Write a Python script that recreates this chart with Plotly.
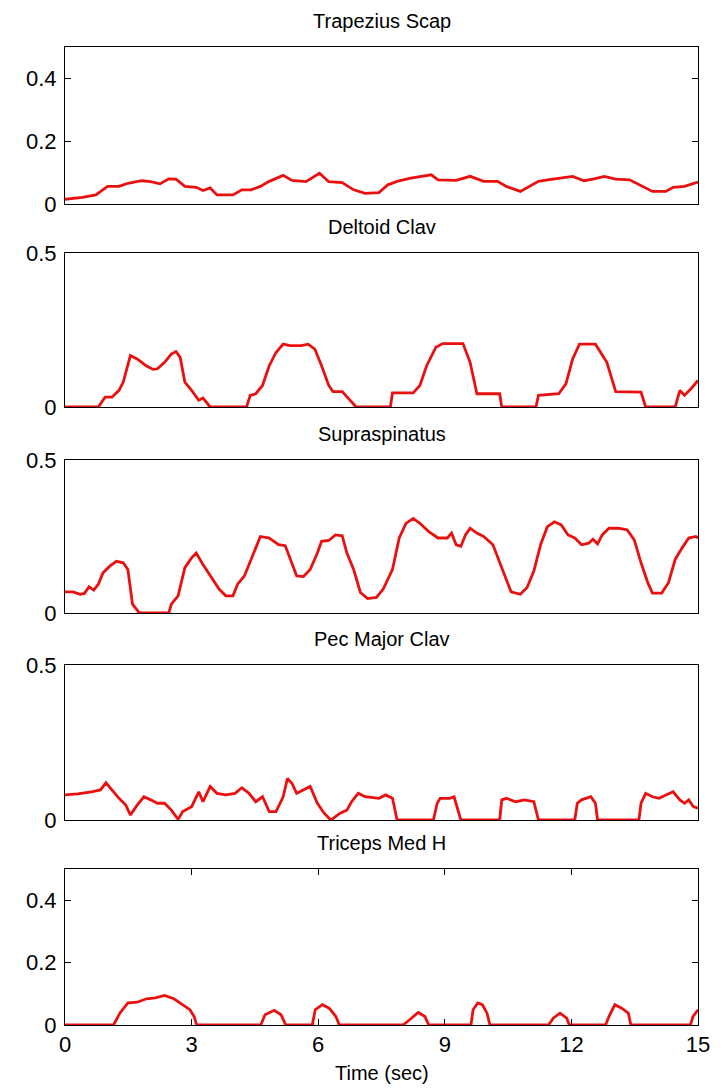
import plotly.graph_objects as go

# ---- EMG envelopes (normalised activation) against time in seconds ----
trap_t = [0, 0.41, 0.73, 1.01, 1.28, 1.49, 1.82, 2.03, 2.25, 2.46, 2.63, 2.84, 3.11, 3.27,
          3.44, 3.60, 3.98, 4.19, 4.41, 4.63, 4.84, 5.17, 5.38, 5.71, 6.03, 6.25, 6.57,
          6.84, 7.11, 7.44, 7.65, 7.87, 8.19, 8.46, 8.68, 8.84, 9.27, 9.60, 9.92, 10.25,
          10.46, 10.79, 11.00, 11.22, 11.43, 11.76, 12.03, 12.30, 12.51, 12.78, 13.05,
          13.38, 13.60, 13.92, 14.24, 14.41, 14.68, 14.95, 15.0]
trap_v = [0.015, 0.021, 0.029, 0.056, 0.056, 0.066, 0.074, 0.071, 0.064, 0.080, 0.079,
          0.056, 0.053, 0.043, 0.051, 0.029, 0.029, 0.045, 0.045, 0.056, 0.072, 0.091,
          0.075, 0.071, 0.098, 0.071, 0.068, 0.045, 0.034, 0.036, 0.061, 0.072, 0.082,
          0.088, 0.093, 0.077, 0.075, 0.088, 0.072, 0.072, 0.056, 0.040, 0.056, 0.072,
          0.077, 0.082, 0.088, 0.074, 0.079, 0.088, 0.079, 0.077, 0.061, 0.040, 0.040,
          0.053, 0.056, 0.069, 0.070]

delt_t = [0, 0.79, 0.95, 1.11, 1.28, 1.38, 1.55, 1.71, 1.92, 2.09, 2.19, 2.36, 2.52, 2.63,
          2.73, 2.84, 3.00, 3.17, 3.27, 3.44, 4.30, 4.39, 4.52, 4.68, 4.84, 5.00, 5.17,
          5.33, 5.60, 5.76, 5.92, 6.08, 6.25, 6.35, 6.57, 6.73, 6.90, 7.71, 7.76, 8.25,
          8.41, 8.57, 8.79, 8.95, 9.43, 9.60, 9.76, 10.30, 10.35, 11.16, 11.22, 11.70,
          11.87, 12.03, 12.19, 12.57, 12.84, 13.05, 13.65, 13.76, 14.46, 14.57, 14.68,
          14.84, 15.0]
delt_v = [0, 0, 0.032, 0.032, 0.054, 0.081, 0.167, 0.156, 0.134, 0.122, 0.124, 0.145,
          0.172, 0.180, 0.161, 0.081, 0.054, 0.022, 0.029, 0, 0, 0.038, 0.043, 0.070,
          0.134, 0.177, 0.204, 0.199, 0.199, 0.204, 0.188, 0.134, 0.070, 0.050, 0.050,
          0.027, 0, 0, 0.046, 0.046, 0.070, 0.134, 0.194, 0.206, 0.206, 0.145, 0.043,
          0.043, 0, 0, 0.038, 0.043, 0.075, 0.156, 0.204, 0.204, 0.145, 0.050, 0.048,
          0, 0, 0.054, 0.038, 0.060, 0.086]

supra_t = [0, 0.19, 0.36, 0.46, 0.57, 0.68, 0.79, 0.90, 1.06, 1.22, 1.38, 1.49, 1.60,
           1.76, 2.46, 2.52, 2.68, 2.84, 3.00, 3.11, 3.27, 3.44, 3.65, 3.81, 3.98, 4.09,
           4.25, 4.41, 4.63, 4.84, 5.06, 5.22, 5.38, 5.49, 5.65, 5.81, 5.98, 6.08, 6.25,
           6.41, 6.57, 6.68, 6.84, 7.00, 7.17, 7.38, 7.54, 7.76, 7.92, 8.08, 8.25, 8.41,
           8.62, 8.84, 9.06, 9.16, 9.27, 9.38, 9.49, 9.60, 9.76, 9.92, 10.14, 10.30,
           10.46, 10.57, 10.79, 10.95, 11.11, 11.27, 11.43, 11.60, 11.76, 11.92, 12.08,
           12.24, 12.41, 12.51, 12.62, 12.73, 12.89, 13.11, 13.32, 13.49, 13.65, 13.81,
           13.92, 14.14, 14.30, 14.46, 14.62, 14.78, 14.95, 15.0]
supra_v = [0.069, 0.069, 0.061, 0.064, 0.086, 0.075, 0.094, 0.131, 0.153, 0.169, 0.164,
           0.142, 0.029, 0, 0, 0.029, 0.056, 0.148, 0.180, 0.196, 0.158, 0.121, 0.078,
           0.056, 0.056, 0.094, 0.121, 0.175, 0.250, 0.245, 0.223, 0.220, 0.164, 0.121,
           0.119, 0.142, 0.196, 0.234, 0.237, 0.255, 0.252, 0.196, 0.142, 0.067, 0.047,
           0.051, 0.078, 0.142, 0.245, 0.293, 0.309, 0.293, 0.266, 0.245, 0.245, 0.261,
           0.223, 0.218, 0.255, 0.277, 0.261, 0.250, 0.223, 0.164, 0.110, 0.069, 0.061,
           0.083, 0.137, 0.223, 0.282, 0.298, 0.288, 0.255, 0.245, 0.223, 0.228, 0.241,
           0.226, 0.255, 0.277, 0.277, 0.272, 0.239, 0.164, 0.099, 0.065, 0.065, 0.099,
           0.175, 0.212, 0.245, 0.250, 0.245]

pec_t = [0, 0.30, 0.63, 0.84, 0.97, 1.11, 1.28, 1.44, 1.55, 1.71, 1.87, 2.03, 2.19, 2.36,
         2.52, 2.68, 2.79, 3.00, 3.17, 3.27, 3.44, 3.60, 3.81, 4.03, 4.19, 4.36, 4.52,
         4.68, 4.84, 5.00, 5.17, 5.27, 5.38, 5.49, 5.65, 5.81, 5.98, 6.14, 6.30, 6.52,
         6.68, 6.79, 6.95, 7.11, 7.44, 7.60, 7.76, 7.87, 8.73, 8.82, 8.89, 9.11, 9.22,
         9.38, 10.30, 10.35, 10.46, 10.68, 10.89, 11.11, 11.22, 12.08, 12.14, 12.24,
         12.46, 12.57, 12.62, 13.60, 13.65, 13.76, 13.92, 14.08, 14.24, 14.41, 14.57,
         14.68, 14.78, 14.89, 15.0]
pec_v = [0.081, 0.084, 0.091, 0.097, 0.120, 0.097, 0.070, 0.048, 0.016, 0.048, 0.075,
         0.065, 0.054, 0.054, 0.032, 0.002, 0.027, 0.043, 0.091, 0.059, 0.108, 0.086,
         0.081, 0.086, 0.104, 0.086, 0.059, 0.075, 0.027, 0.027, 0.075, 0.134, 0.118,
         0.086, 0.097, 0.108, 0.054, 0.022, 0, 0.022, 0.032, 0.059, 0.086, 0.075, 0.070,
         0.081, 0.070, 0, 0, 0.054, 0.070, 0.070, 0.075, 0, 0, 0.065, 0.070, 0.059,
         0.065, 0.059, 0, 0, 0.054, 0.065, 0.075, 0.054, 0, 0, 0.054, 0.086, 0.075,
         0.070, 0.081, 0.091, 0.065, 0.054, 0.065, 0.043, 0.038]

tri_t = [0, 1.15, 1.30, 1.49, 1.71, 1.93, 2.14, 2.36, 2.58, 2.79, 2.96, 3.06, 3.12, 4.64,
         4.74, 4.96, 5.12, 5.23, 5.86, 5.93, 6.10, 6.26, 6.42, 6.50, 8.01, 8.16, 8.37,
         8.53, 8.62, 9.62, 9.67, 9.78, 9.89, 10.00, 10.07, 11.46, 11.57, 11.73, 11.89,
         11.95, 12.81, 12.89, 13.03, 13.19, 13.35, 13.41, 14.82, 14.88, 15.0]
tri_v = [0, 0, 0.038, 0.071, 0.073, 0.084, 0.087, 0.095, 0.084, 0.065, 0.049, 0.027, 0,
         0, 0.033, 0.047, 0.033, 0, 0, 0.049, 0.065, 0.054, 0.027, 0, 0, 0.016, 0.040,
         0.027, 0, 0, 0.049, 0.071, 0.065, 0.038, 0, 0, 0.022, 0.038, 0.022, 0, 0,
         0.027, 0.065, 0.054, 0.038, 0, 0, 0.027, 0.049]

muscles = ["Trapezius Scap", "Deltoid Clav", "Supraspinatus", "Pec Major Clav", "Triceps Med H"]
series_t = [trap_t, delt_t, supra_t, pec_t, tri_t]
series_v = [trap_v, delt_v, supra_v, pec_v, tri_v]

y_tickvals = [[0, 0.2, 0.4], [0, 0.5], [0, 0.5], [0, 0.5], [0, 0.2, 0.4]]
y_ticktext = [["0", "0.2", "0.4"], ["0", "0.5"], ["0", "0.5"], ["0", "0.5"], ["0", "0.2", "0.4"]]
x_tickvals = [0, 3, 6, 9, 12, 15]
x_ticktext = ["0", "3", "6", "9", "12", "15"]

# ---- layout geometry ----
W, H = 722, 1092
domains = [(0.8395, 1.0), (0.6319, 0.7894), (0.4213, 0.5777), (0.2096, 0.3681), (0.0, 0.1595)]
FONT = "Liberation Sans Narrow, Arial Narrow, Liberation Sans, sans-serif"
LINE_RED = "rgb(235,16,16)"

fig = go.Figure()
layout = dict(
    width=W, height=H,
    margin=dict(l=65, r=18, t=47, b=67),
    paper_bgcolor="white", plot_bgcolor="white",
    showlegend=False,
    font=dict(family=FONT, size=20, color="black"),
)

annotations = []
for i, (name, tt, vv) in enumerate(zip(muscles, series_t, series_v)):
    n = i + 1
    xa = "x" if n == 1 else f"x{n}"
    ya = "y" if n == 1 else f"y{n}"
    fig.add_trace(go.Scatter(x=tt, y=vv, mode="lines", xaxis=xa, yaxis=ya,
                             line=dict(color=LINE_RED, width=2.8), hoverinfo="skip"))
    last = (n == 5)
    xkey = "xaxis" if n == 1 else f"xaxis{n}"
    ykey = "yaxis" if n == 1 else f"yaxis{n}"
    layout[xkey] = dict(
        domain=[0, 1], range=[0, 15], anchor=ya,
        showline=True, linecolor="black", linewidth=1, mirror="ticks" if last else True,
        showgrid=False, zeroline=False,
        ticks="inside" if last else "", ticklen=6, tickcolor="black",
        tickvals=x_tickvals if last else [], ticktext=x_ticktext if last else [],
        showticklabels=last, tickfont=dict(family=FONT, size=22),
    )
    layout[ykey] = dict(
        domain=list(domains[i]),
        range=[0, 0.5], anchor=xa,
        showline=True, linecolor="black", linewidth=1, mirror="ticks",
        showgrid=False, zeroline=False,
        ticks="inside", ticklen=6, tickcolor="black",
        tickvals=y_tickvals[i], ticktext=y_ticktext[i],
        tickfont=dict(family=FONT, size=22), ticklabelstandoff=3,
    )
    annotations.append(dict(
        text=name, xref="paper", yref="paper", x=0.5, y=domains[i][1],
        xanchor="center", yanchor="bottom", yshift=13, showarrow=False,
        font=dict(family=FONT, size=20, color="black"),
    ))

annotations.append(dict(
    text="Time (sec)", xref="paper", yref="paper", x=0.5, y=0,
    xanchor="center", yanchor="top", yshift=-35, showarrow=False,
    font=dict(family=FONT, size=20, color="black"),
))
layout["annotations"] = annotations
fig.update_layout(**layout)

fig.write_html("out.html")
